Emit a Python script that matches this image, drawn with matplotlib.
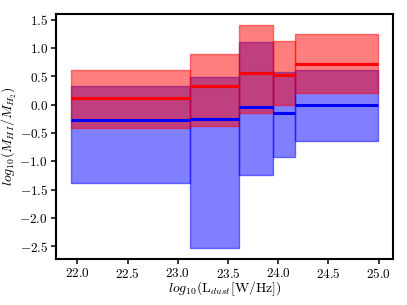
import numpy as np
import matplotlib
matplotlib.use("Agg")
import matplotlib.pyplot as plt

# bin edges in log10(L_dust)
bin_edges = [21.94, 23.12, 23.61, 23.95, 24.17, 24.99]

# red series (median and band)
red_med = [0.12, 0.32, 0.56, 0.52, 0.72]
red_lo = [-0.42, -0.38, -0.15, 0.00, 0.21]
red_hi = [0.61, 0.89, 1.40, 1.12, 1.24]

# blue series (median and band)
blue_med = [-0.27, -0.25, -0.05, -0.14, -0.01]
blue_lo = [-1.39, -2.53, -1.25, -0.93, -0.65]
blue_hi = [0.32, 0.48, 1.10, 0.58, 0.61]

theme = {
    "font.family": "serif",
    "font.serif": ["cmr10"],
    "mathtext.fontset": "cm",
    "axes.formatter.use_mathtext": True,
    "axes.unicode_minus": True,
    "xtick.labelsize": 9.5,
    "ytick.labelsize": 9.5,
    "axes.labelsize": 10,
}
matplotlib.rcParams.update(theme)

fig = plt.figure(figsize=(4.07, 3.05), dpi=100)
ax = fig.add_axes([0.1376, 0.150, 0.828, 0.804])

# blue bands first, red on top (overlap looks reddish purple)
for i in range(len(red_med)):
    x = [bin_edges[i], bin_edges[i + 1]]
    ax.fill_between(x, blue_lo[i], blue_hi[i], color="blue", alpha=0.5)
    ax.fill_between(x, red_lo[i], red_hi[i], color="red", alpha=0.5)

for i in range(len(red_med)):
    x0, x1 = bin_edges[i], bin_edges[i + 1]
    ax.hlines(red_med[i], x0, x1, color="red", lw=2.2)
    ax.hlines(blue_med[i], x0, x1, color="blue", lw=2.2)

ax.set_xticks([22.0, 22.5, 23.0, 23.5, 24.0, 24.5, 25.0])
ax.set_yticks([-2.5, -2.0, -1.5, -1.0, -0.5, 0.0, 0.5, 1.0, 1.5])
ax.tick_params(direction="out", length=3.8, width=1.1, pad=2)
for s in ax.spines.values():
    s.set_linewidth(1.5)

ax.set_xlabel(r"$log_{10}$(L$_{dust}$[W/Hz])", labelpad=-1)
ax.set_ylabel(r"$log_{10}(M_{HI}/M_{H_2})$", labelpad=0)

fig.savefig("out.png", dpi=100)
